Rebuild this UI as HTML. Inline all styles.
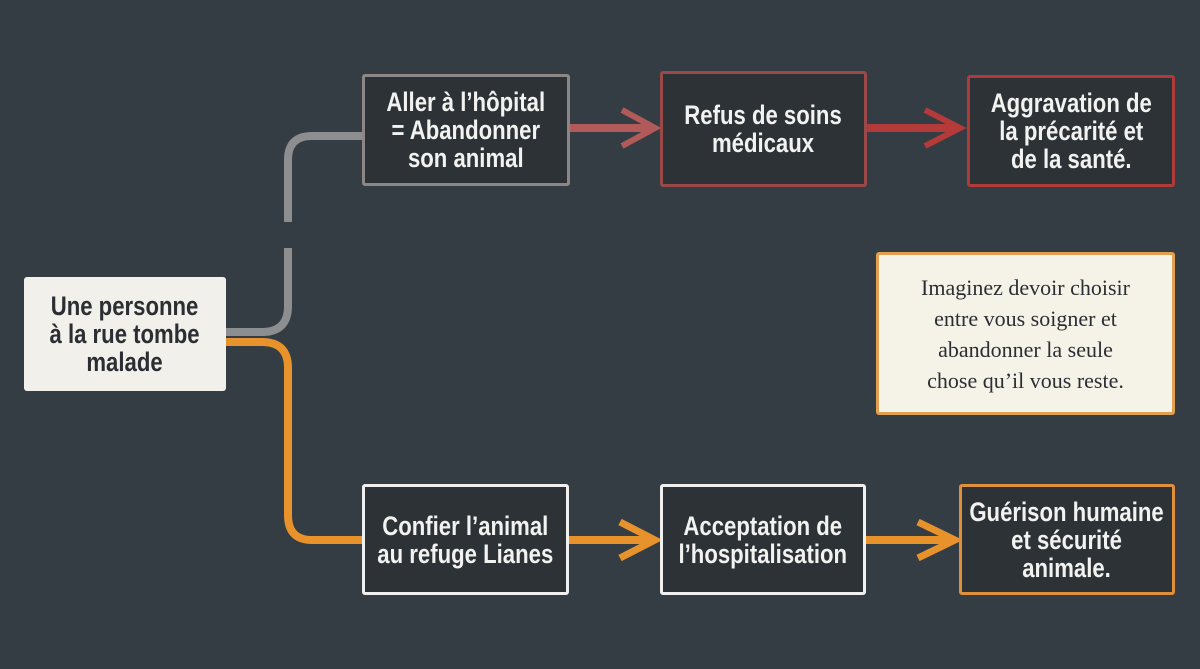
<!DOCTYPE html>
<html><head><meta charset="utf-8"><style>
html,body{margin:0;padding:0}
body{width:1200px;height:669px;background:#353d44;position:relative;overflow:hidden;font-family:"Liberation Sans",sans-serif}
.b{position:absolute;box-sizing:border-box;display:flex;align-items:center;justify-content:center;text-align:center;font-weight:bold;font-size:27px;line-height:28px;color:#f2f2f0;background:#2c3236;border:3px solid #ddd;border-radius:3px}
.b span{display:inline-block;transform:scaleX(0.82);white-space:nowrap}
svg{position:absolute;left:0;top:0}
</style></head><body>
<svg width="1200" height="669">
<path d="M226 332 H262 Q288 332 288 306 V248" stroke="#8d8e90" stroke-width="8" fill="none"/>
<path d="M288 222 V160 Q288 136 312 136 H362" stroke="#8d8e90" stroke-width="8" fill="none"/>
<path d="M226 342 H262 Q288 342 288 368 V515 Q288 540 312 540 H362" stroke="#e8922c" stroke-width="8" fill="none"/>
<path d="M570 128 H650" stroke="#b25a5a" stroke-width="8"/>
<path d="M622 110 L655 128 L622 146" stroke="#b25a5a" stroke-width="6" fill="none"/>
<path d="M867 128 H955" stroke="#b53a3a" stroke-width="8"/>
<path d="M925 110 L960 128 L925 146" stroke="#b53a3a" stroke-width="6" fill="none"/>
<path d="M569 540 H650" stroke="#e8922c" stroke-width="8"/>
<path d="M620 522 L655 540 L620 558" stroke="#e8922c" stroke-width="7" fill="none"/>
<path d="M866 540 H950" stroke="#e8922c" stroke-width="8"/>
<path d="M918 522 L955 540 L918 558" stroke="#e8922c" stroke-width="7" fill="none"/>
</svg>
<div class="b" style="left:24px;top:277px;width:202px;height:114px;background:#f2f0ea;color:#2b2f33;border:none"><span>Une personne<br>à la rue tombe<br>malade</span></div>
<div class="b" style="left:362px;top:74px;width:208px;height:112px;border-color:#8d8686"><span>Aller à l’hôpital<br>= Abandonner<br>son animal</span></div>
<div class="b" style="left:660px;top:71px;width:207px;height:116px;border-color:#9a4848"><span>Refus de soins<br>médicaux</span></div>
<div class="b" style="left:967px;top:75px;width:208px;height:112px;border-color:#b03a3a"><span>Aggravation de<br>la précarité et<br>de la santé.</span></div>
<div class="b" style="left:362px;top:484px;width:207px;height:111px;border-color:#f0f0f0"><span>Confier l’animal<br>au refuge Lianes</span></div>
<div class="b" style="left:660px;top:484px;width:206px;height:111px;border-color:#f0f0f0"><span>Acceptation de<br>l’hospitalisation</span></div>
<div class="b" style="left:959px;top:484px;width:216px;height:111px;border-color:#e0903a"><span>Guérison humaine<br>et sécurité<br>animale.</span></div>
<div class="b" style="left:876px;top:252px;width:299px;height:163px;background:#f5f2e8;color:#2b2f33;border-color:#e0a050;font-family:'Liberation Serif',serif;font-weight:normal;font-size:22px;line-height:31px">Imaginez devoir choisir<br>entre vous soigner et<br>abandonner la seule<br>chose qu’il vous reste.</div>
</body></html>
